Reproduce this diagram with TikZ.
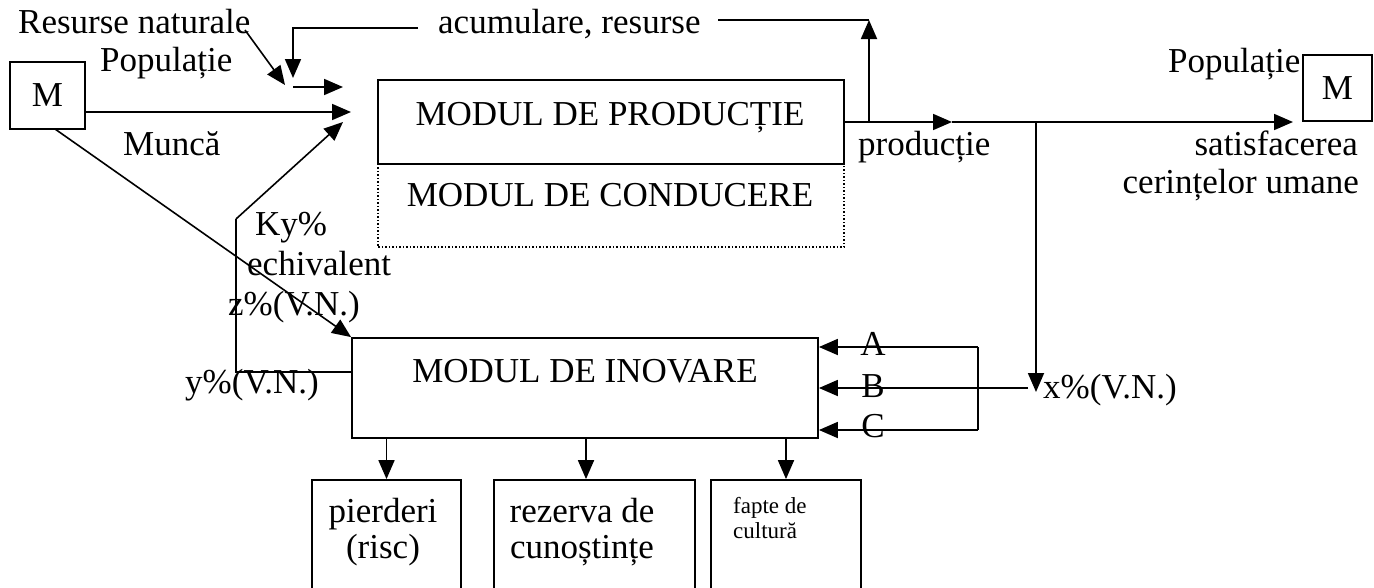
\documentclass[tikz,border=0pt]{standalone}
\usepackage{fontspec}
\setmainfont{Liberation Serif}
\usetikzlibrary{arrows.meta,calc}
\begin{document}
\begin{tikzpicture}[x=1pt,y=-1pt,
  every node/.style={inner sep=0pt, font=\fontsize{35}{40}\selectfont},
  box/.style={draw, line width=1.8pt},
  ln/.style={line width=1.8pt},
  thin ln/.style={line width=1.6pt},
  arr/.style={ln, -{Triangle[length=19pt,width=16pt]}},
  tarr/.style={thin ln, -{Triangle[length=19pt,width=16pt]}},
  lbl/.style={anchor=base west},
  small/.style={font=\fontsize{23}{26}\selectfont},
]
\useasboundingbox (0,0) rectangle (1374,587);

% boxes
\node[box, minimum width=75pt, minimum height=67pt] (mL) at (47.5,95.5) {M};
\node[box, minimum width=69pt, minimum height=66pt] (mR) at (1337.5,88) {M};
\node[box, minimum width=466pt, minimum height=84pt] (prod) at (611,122) {};
\node[anchor=base] (tprod) at (610,125) {MODUL DE PRODUCȚIE};
\node[minimum width=466pt, minimum height=83pt] (cond) at (611,205.5) {};
\draw[dotted, line width=1.5pt] (cond.north west) -- (cond.south west) -- (cond.south east) -- (cond.north east);
\node[anchor=base] (tcond) at (610,206) {MODUL DE CONDUCERE};
\node[box, minimum width=466pt, minimum height=100pt] (inov) at (585,388) {};
\node[anchor=base] (tinov) at (585,382) {MODUL DE INOVARE};
\node[box, minimum width=149pt, minimum height=140pt] (b1) at (386.5,550) {};
\node[box, minimum width=201pt, minimum height=140pt] (b2) at (594.5,550) {};
\node[box, minimum width=150pt, minimum height=140pt] (b3) at (786,550) {};
\node[anchor=base] (t1a) at (383,522) {pierderi};
\node[anchor=base] (t1b) at (383,558) {(risc)};
\node[anchor=base] (t2a) at (582,522) {rezerva de};
\node[anchor=base] (t2b) at (582,558) {cunoștințe};
\node[lbl, small] (t3a) at (733,513) {fapte de};
\node[lbl, small] (t3b) at (733,538) {cultură};

% labels
\node[lbl] (resnat) at (18,33) {Resurse naturale};
\node[lbl] (popL) at (100,71) {Populație};
\node[lbl] (munca) at (123,155) {Muncă};
\node[lbl] (acum) at (438,33) {acumulare, resurse};
\node[lbl] (prodtxt) at (858,155) {producție};
\node[lbl] (popR) at (1168,72) {Populație};
\node[anchor=base east] (sat) at (1358,155) {satisfacerea};
\node[anchor=base east] (cer) at (1359,193) {cerințelor umane};
\node[lbl] (ky) at (255,235) {Ky\%};
\node[lbl] (echiv) at (247,275) {echivalent};
\node[lbl] (zvn) at (228,315) {z\%(V.N.)};
\node[lbl] (yvn) at (185,393) {y\%(V.N.)};
\node[lbl] (xvn) at (1043,398) {x\%(V.N.)};
\node[anchor=base] (la) at (873,355) {A};
\node[anchor=base] (lb) at (873,397) {B};
\node[anchor=base] (lc) at (873,437) {C};

% coordinates
\coordinate (munTip) at (351,112);
\coordinate (mDiag) at (55,129);
\coordinate (rnA) at (245,30);
\coordinate (rnB) at (285,85);
\coordinate (fbA) at (418,28);
\coordinate (fbB) at (293,28);
\coordinate (fbC) at (293,78);
\coordinate (smA) at (293,87);
\coordinate (smB) at (343,87);
\coordinate (kyA) at (236,372);
\coordinate (kyB) at (236,219);
\coordinate (kyTip) at (343,122);
\coordinate (outMid) at (952,122);
\coordinate (outTip) at (1293,122);
\coordinate (upX) at (869,122);
\coordinate (upTop) at (869,20);
\coordinate (acR) at (718,20);
\coordinate (downX) at (1036,122);
\coordinate (downTip) at (1036,392);
\coordinate (bStart) at (1028,388);
\coordinate (aR) at (978,347);
\coordinate (cR) at (978,430);
\coordinate (x586) at (586,0);

% connectors
\draw[arr] (mL.east |- munTip) -- (munTip);
\draw[tarr] (mDiag) -- (inov.north west);
\draw[tarr] (rnA) -- (rnB);
\draw[arr] (fbA) -- (fbB) -- (fbC);
\draw[arr] (smA) -- (smB);
\draw[ln] (inov.west |- kyA) -- (kyA) -- (kyB);
\draw[tarr] (kyB) -- (kyTip);
\draw[arr] (prod.east) -- (outMid);
\draw[arr] (outMid) -- (outTip);
\draw[ln] (acR) -- (upTop);
\draw[arr] (upX) -- (upTop);
\draw[arr] (downX) -- (downTip);
\draw[arr] (bStart) -- (inov.east |- bStart);
\draw[ln] (aR) -- (cR);
\draw[arr] (aR) -- (inov.east |- aR);
\draw[arr] (cR) -- (inov.east |- cR);
\draw[arr] (inov.south -| b1.north) -- (b1.north);
\draw[arr] (inov.south -| x586) -- (b2.north -| x586);
\draw[arr] (inov.south -| b3.north) -- (b3.north);
\end{tikzpicture}
\end{document}
